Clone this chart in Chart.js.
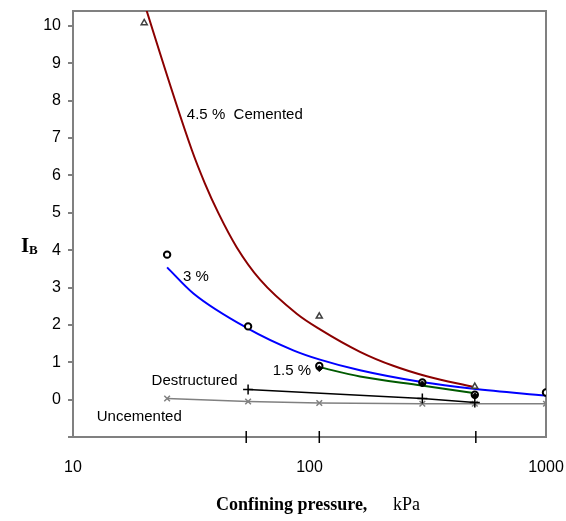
<!DOCTYPE html>
<html>
<head>
<meta charset="utf-8">
<script src="https://cdn.jsdelivr.net/npm/chart.js@4/dist/chart.umd.min.js"></script>
<style>
  html, body { margin: 0; padding: 0; background: #fff; }
  #wrap { width: 566px; height: 521px; }
</style>
</head>
<body>
<div id="wrap"><canvas id="chart"></canvas></div>
<script>
// measured points (confining pressure kPa, IB)
const triP = [20, 110, 500];
const triIB = [10.08, 2.23, 0.35];
const cem3P = [25, 55, 110, 300, 500, 1000];
const cem3IB = [3.88, 1.96, 0.9, 0.46, 0.13, 0.19];
const cem15P = [110, 300, 500];
const cem15IB = [0.83, 0.42, 0.1];
const destrP = [55, 300, 500];
const destrIB = [0.27, 0.03, -0.08];
const uncP = [25, 55, 110, 300, 500, 1000];
const uncIB = [0.03, -0.05, -0.09, -0.11, -0.11, -0.11];

// trend curves
const fit45P = [19.2, 20.5, 31.8, 36.1, 41.2, 49.2, 61.8, 88.3, 110.8, 163.5, 226, 313, 493];
const fit45IB = [10.99, 10.4, 6.68, 5.79, 4.99, 4.08, 3.21, 2.3, 1.88, 1.28, 0.905, 0.624, 0.338];
const fit3P = [25, 32.3, 55, 85.4, 110.7, 163.5, 298, 493, 1000];
const fit3IB = [3.54, 2.84, 1.9, 1.32, 1.07, 0.785, 0.47, 0.29, 0.11];
const fit15P = [110, 163.5, 298, 493];
const fit15IB = [0.87, 0.62, 0.38, 0.18];

// vertical marks on the pressure axis
const markP = [54, 110, 505];
const markIB = [-1, -1, -1];

const xTicks = [10, 100, 1000];
const yTicks = [-1, 0, 1, 2, 3, 4, 5, 6, 7, 8, 9, 10];

// curve labels: [text, pressure, IB]
const curveLabels = [
  ['4.5 %  Cemented', 30.3, 7.61],
  ['3 %', 29.2, 3.28],
  ['1.5 %', 69.9, 0.77],
  ['Destructured', 21.5, 0.49],
  ['Uncemented', 12.6, -0.47]
];

function pts(xs, ys) {
  return xs.map((x, i) => ({ x: x, y: ys[i] }));
}

const gray = '#808080';

const textPlugin = {
  id: 'texts',
  beforeDatasetsDraw(chart) {
    const a = chart.chartArea, ctx = chart.ctx;
    ctx.save();
    ctx.strokeStyle = gray;
    ctx.lineWidth = 2;
    ctx.beginPath();
    ctx.moveTo(a.left, a.top);
    ctx.lineTo(a.right, a.top);
    ctx.lineTo(a.right, a.bottom);
    ctx.stroke();
    ctx.restore();
  },
  afterDraw(chart) {
    const ctx = chart.ctx;
    const xs = chart.scales.x, ys = chart.scales.y;
    ctx.save();
    ctx.fillStyle = '#000';
    ctx.textBaseline = 'middle';
    ctx.textAlign = 'left';
    ctx.font = '15px "Liberation Sans", Arial, sans-serif';
    curveLabels.forEach(l => {
      ctx.fillText(l[0], xs.getPixelForValue(l[1]), ys.getPixelForValue(l[2]));
    });
    // y title
    ctx.textBaseline = 'alphabetic';
    ctx.font = 'bold 21px "Liberation Serif", "Times New Roman", serif';
    ctx.fillText('I', 21, 252);
    ctx.font = 'bold 13px "Liberation Serif", "Times New Roman", serif';
    ctx.fillText('B', 29, 254);
    // x title
    ctx.textBaseline = 'middle';
    ctx.font = 'bold 18px "Liberation Serif", "Times New Roman", serif';
    ctx.fillText('Confining pressure,', 216, 505);
    ctx.font = '18px "Liberation Serif", "Times New Roman", serif';
    ctx.fillText('kPa', 393, 505);
    ctx.restore();
  }
};

new Chart(document.getElementById('chart'), {
  type: 'scatter',
  data: {
    datasets: [
      { data: pts(cem15P, cem15IB), pointStyle: 'rectRot', pointRadius: 3, backgroundColor: '#000', borderColor: '#000', borderWidth: 1 },
      { data: pts(cem3P, cem3IB), pointStyle: 'circle', pointRadius: 3.2, backgroundColor: '#fff', borderColor: '#000', borderWidth: 2 },
      { data: pts(triP, triIB), pointStyle: 'triangle', pointRadius: 3.5, backgroundColor: '#fff', borderColor: '#404040', borderWidth: 1.5 },
      { data: pts(destrP, destrIB), showLine: true, pointStyle: 'cross', pointRadius: 5, borderColor: '#000', backgroundColor: '#000', borderWidth: 1.5 },
      { data: pts(uncP, uncIB), showLine: true, pointStyle: 'crossRot', pointRadius: 4, borderColor: gray, backgroundColor: gray, borderWidth: 1.5 },
      { data: pts(fit15P, fit15IB), showLine: true, pointRadius: 0, borderColor: '#005a00', borderWidth: 2, cubicInterpolationMode: 'monotone' },
      { data: pts(fit3P, fit3IB), showLine: true, pointRadius: 0, borderColor: '#0000ff', borderWidth: 2, cubicInterpolationMode: 'monotone' },
      { data: pts(fit45P, fit45IB), showLine: true, pointRadius: 0, borderColor: '#8b0000', borderWidth: 2, cubicInterpolationMode: 'monotone' },
      { data: pts(markP, markIB), pointStyle: 'line', rotation: 90, pointRadius: 6, borderColor: '#000', borderWidth: 1.5, clip: false }
    ]
  },
  options: {
    responsive: true,
    maintainAspectRatio: false,
    animation: false,
    events: [],
    layout: { padding: { top: 11, right: 20, left: 0, bottom: 0 } },
    plugins: { legend: { display: false }, tooltip: { enabled: false } },
    scales: {
      x: {
        type: 'logarithmic',
        min: 10,
        max: 1000,
        afterBuildTicks: s => { s.ticks = xTicks.map(v => ({ value: v })); },
        afterFit: s => { s.height = 84; s.paddingLeft = 0; s.paddingRight = 0; },
        grid: { display: false, drawTicks: false },
        border: { display: true, color: gray, width: 2 },
        ticks: {
          color: '#000',
          padding: 21,
          maxRotation: 0,
          font: { family: '"Liberation Sans", Arial, sans-serif', size: 16 },
          callback: v => String(v)
        }
      },
      y: {
        min: -1,
        max: 10.4,
        afterBuildTicks: s => { s.ticks = yTicks.map(v => ({ value: v })); },
        afterFit: s => { s.width = 73; s.paddingTop = 0; s.paddingBottom = 0; },
        grid: { drawOnChartArea: false, tickLength: 5, color: gray, lineWidth: 2 },
        border: { display: true, color: gray, width: 2 },
        ticks: {
          color: '#000',
          padding: 7,
          font: { family: '"Liberation Sans", Arial, sans-serif', size: 16 },
          callback: v => (v < 0 ? '' : String(v))
        }
      }
    }
  },
  plugins: [textPlugin]
});
</script>
</body>
</html>
